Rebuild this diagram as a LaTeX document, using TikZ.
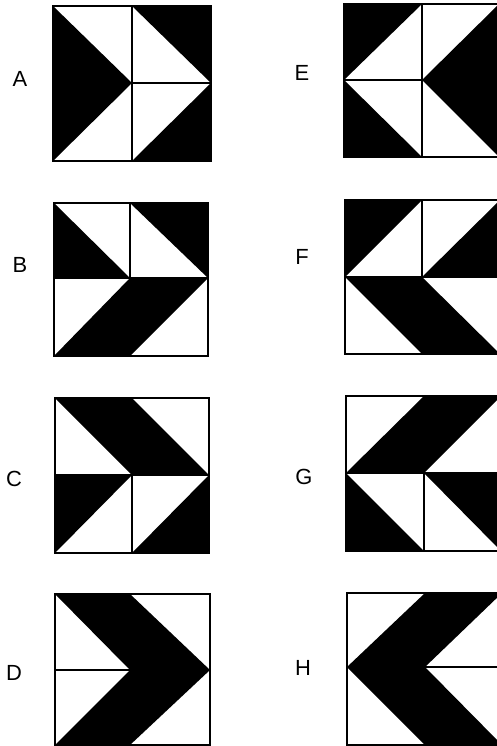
\documentclass[tikz,border=0pt]{standalone}
\usepackage{fontspec}
\setmainfont{Liberation Sans}
\newcommand{\defsq}[7]{%
 \coordinate (#1TL) at (#2,#3);
 \coordinate (#1TR) at (#4,#3);
 \coordinate (#1BL) at (#2,#5);
 \coordinate (#1BR) at (#4,#5);
 \coordinate (#1TM) at (#6,#3);
 \coordinate (#1BM) at (#6,#5);
 \coordinate (#1LM) at (#2,#7);
 \coordinate (#1RM) at (#4,#7);
 \coordinate (#1C) at (#6,#7);
}
\tikzset{
 blk/.style={fill=black},
 ln/.style={draw=black,line width=1.2bp,line cap=rect},
 lab/.style={font=\fontsize{22}{22}\selectfont,inner sep=0pt}
}
\begin{document}
\begin{tikzpicture}[x=1bp,y=-1bp]
\useasboundingbox (0,0) rectangle (497,746);
\clip (0,0) rectangle (497,746);
\defsq{A}{53}{6}{211}{161}{132}{83}
\defsq{E}{344}{4}{499}{157}{422}{80}
\defsq{B}{54}{203}{208}{356}{130}{278}
\defsq{F}{345}{200}{500}{354}{422}{277}
\defsq{C}{55}{398}{209}{553}{132}{475}
\defsq{G}{346}{396}{501}{551}{424}{473}
\defsq{D}{55}{594}{210}{745}{130}{670}
\defsq{H}{347}{593}{502}{745}{425}{667}
% A
\fill[blk] (ATL)--(AC)--(ABL)--cycle;
\fill[blk] (ATM)--(ATR)--(ARM)--cycle;
\fill[blk] (ARM)--(ABR)--(ABM)--cycle;
\draw[ln] (ATM)--(ABM) (AC)--(ARM);
\draw[ln] (ATL) rectangle (ABR);
% E
\fill[blk] (ETL)--(ETM)--(ELM)--cycle;
\fill[blk] (ELM)--(EBM)--(EBL)--cycle;
\fill[blk] (EC)--(ETR)--(EBR)--cycle;
\draw[ln] (ETM)--(EBM) (ELM)--(EC);
\draw[ln] (ETL) rectangle (EBR);
% B
\fill[blk] (BTL)--(BC)--(BLM)--cycle;
\fill[blk] (BTM)--(BTR)--(BRM)--cycle;
\fill[blk] (BBL)--(BC)--(BRM)--(BBM)--cycle;
\draw[ln] (BTM)--(BC) (BLM)--(BRM);
\draw[ln] (BTL) rectangle (BBR);
% F
\fill[blk] (FTL)--(FTM)--(FLM)--cycle;
\fill[blk] (FC)--(FTR)--(FRM)--cycle;
\fill[blk] (FLM)--(FC)--(FBR)--(FBM)--cycle;
\draw[ln] (FTM)--(FC) (FLM)--(FRM);
\draw[ln] (FTL) rectangle (FBR);
% C
\fill[blk] (CTL)--(CTM)--(CRM)--(CC)--cycle;
\fill[blk] (CLM)--(CC)--(CBL)--cycle;
\fill[blk] (CRM)--(CBR)--(CBM)--cycle;
\draw[ln] (CC)--(CBM) (CLM)--(CRM);
\draw[ln] (CTL) rectangle (CBR);
% G
\fill[blk] (GLM)--(GTM)--(GTR)--(GC)--cycle;
\fill[blk] (GLM)--(GBM)--(GBL)--cycle;
\fill[blk] (GC)--(GRM)--(GBR)--cycle;
\draw[ln] (GC)--(GBM) (GLM)--(GRM);
\draw[ln] (GTL) rectangle (GBR);
% D
\fill[blk] (DTL)--(DTM)--(DRM)--(DBM)--(DBL)--(DC)--cycle;
\draw[ln] (DLM)--(DC);
\draw[ln] (DTL) rectangle (DBR);
% H
\fill[blk] (HTM)--(HTR)--(HC)--(HBR)--(HBM)--(HLM)--cycle;
\draw[ln] (HC)--(HRM);
\draw[ln] (HTL) rectangle (HBR);
% labels
\node[lab] (labA) at (20,79) {A};
\node[lab] (labE) at (302,73) {E};
\node[lab] (labB) at (20,265) {B};
\node[lab] (labF) at (302,257) {F};
\node[lab] (labC) at (14,479) {C};
\node[lab] (labG) at (304,477) {G};
\node[lab] (labD) at (14,673) {D};
\node[lab] (labH) at (303,668) {H};
\end{tikzpicture}
\end{document}
